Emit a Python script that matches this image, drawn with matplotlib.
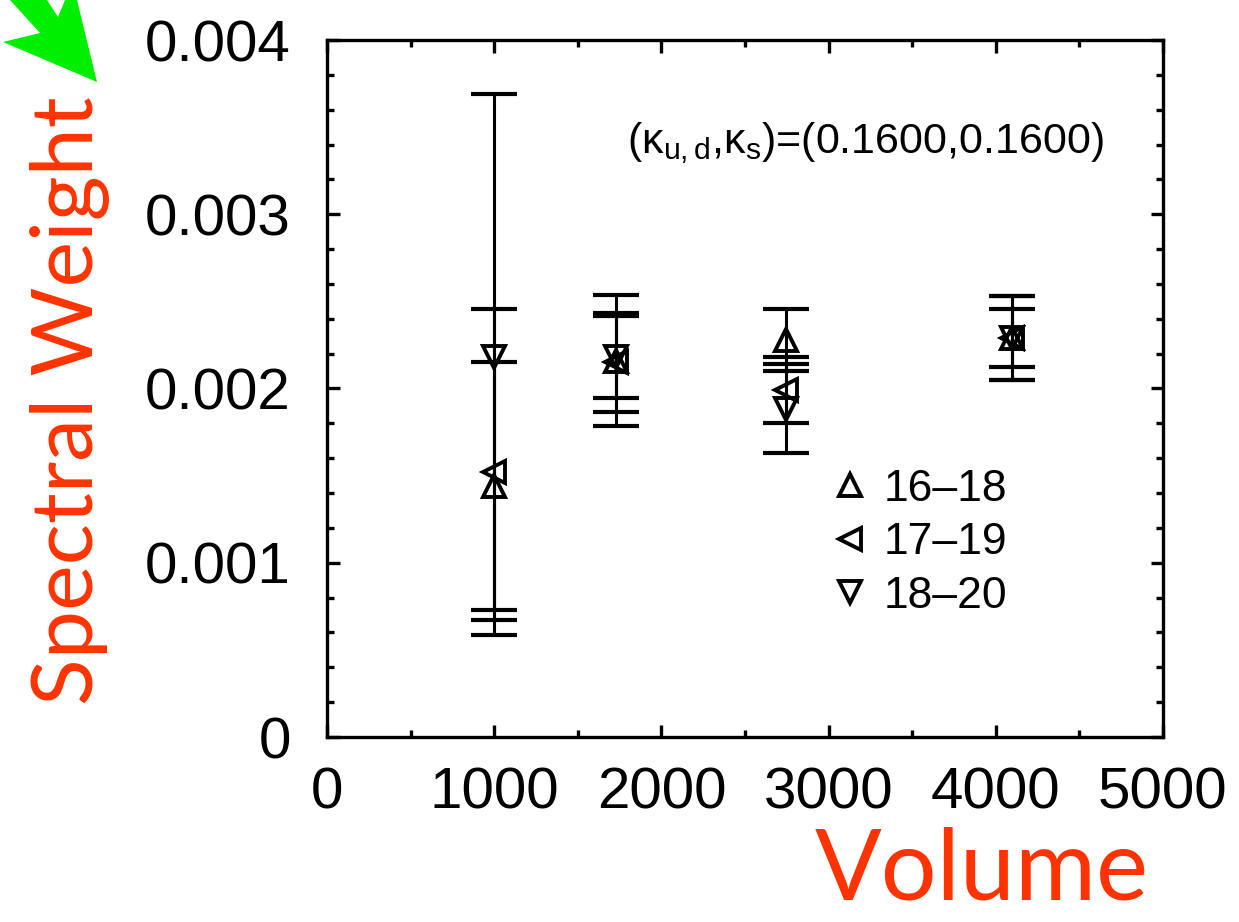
import numpy as np
import matplotlib
matplotlib.use('Agg')
import matplotlib.pyplot as plt
from matplotlib.patches import Polygon
from matplotlib.ticker import MultipleLocator, FuncFormatter

plt.rcParams.update({'font.family': ['Liberation Sans', 'DejaVu Sans']})
plt.rcParams.update({'mathtext.fontset': 'custom'})
plt.rcParams.update({'mathtext.rm': 'Liberation Sans'})
plt.rcParams.update({'mathtext.it': 'Liberation Sans'})

#%% spectral weight vs lattice volume, three fit ranges
volume = [1000, 1728, 2744, 4096]

w_16_18 = [0.00144, 0.00216, 0.00228, 0.00229]
e_16_18 = [0.00071, 0.000374, 0.000177, 0.000243]

w_17_19 = [0.00152, 0.00215, 0.00199, 0.00229]
e_17_19 = [0.000935, 0.000283, 0.00019, 0.000167]

w_18_20 = [0.00218, 0.00218, 0.001885, 0.00229]
e_18_20 = [0.00151, 0.000237, 0.000255, 0.00024]

series = [(w_16_18, e_16_18, '^', '16\u201318'),
          (w_17_19, e_17_19, '<', '17\u201319'),
          (w_18_20, e_18_20, 'v', '18\u201320')]

red = '#ff3300'

fig = plt.figure(figsize=(12.39, 9.22), dpi=100)
ax = fig.add_axes([327/1239, 185/922, 836/1239, 697/922])

handles = []
for w, e, m, lab in series:
    ax.errorbar(volume, w, yerr=e, fmt='none', ecolor='k', elinewidth=2.2,
                capsize=16.5, capthick=3.0, zorder=2)
    ax.plot(volume, w, linestyle='none', marker=m, ms=16, mfc='none',
            mec='k', mew=2.8, zorder=3)
    h, = ax.plot([], [], linestyle='none', marker=m, ms=16, mfc='none',
                 mec='k', mew=2.8)
    handles.append(h)

ax.set_xlim(0, 5000)
ax.set_ylim(0, 0.004)
ax.xaxis.set_major_locator(MultipleLocator(1000))
ax.xaxis.set_minor_locator(MultipleLocator(500))
ax.yaxis.set_major_locator(MultipleLocator(0.001))
ax.yaxis.set_minor_locator(MultipleLocator(0.0002))
ax.xaxis.set_major_formatter(FuncFormatter(lambda v, p: '%g' % v))
ax.yaxis.set_major_formatter(FuncFormatter(lambda v, p: '%g' % v))
ax.tick_params(which='both', direction='in', top=True, right=True, width=2.4,
               labelsize=42)
ax.tick_params(which='major', length=9)
ax.tick_params(which='minor', length=5)
ax.tick_params(axis='y', pad=26)
ax.tick_params(axis='x', pad=21)
for s in ax.spines.values():
    s.set_linewidth(2.4)

ax.text(0.359, 0.852, r'(κ$_{u,d}$,κ$_s$)=(0.1600,0.1600)', transform=ax.transAxes,
        fontsize=31, va='center', ha='left')

ax.legend(handles, [s[3] for s in series], loc='upper left', frameon=False,
          fontsize=32, handlelength=1.0, handletextpad=0.25, labelspacing=0.28,
          borderpad=0, borderaxespad=0,
          bbox_to_anchor=(828/1239, 1 - 469/922), bbox_transform=fig.transFigure)

# slide labels
fig.text(92/1239, 1 - 705/922, 'Spectral Weight', family='Lato', fontsize=62,
         color=red, rotation=90, rotation_mode='anchor', ha='left', va='baseline')
fig.text(815/1239, 1 - 899/922, 'Volume', family='Lato', fontsize=71,
         color=red, ha='left', va='baseline')

# green pointer arrow in the corner
arrow_px = [(10, 0), (40, 33), (3, 42), (97, 82), (77, 0), (65, 0), (58, 17), (47, 0)]
arrow = Polygon([(x/1239, 1 - y/922) for x, y in arrow_px], closed=True,
                transform=fig.transFigure, facecolor='#00ee00', edgecolor='none')
fig.patches.append(arrow)

fig.savefig('out.png', dpi=100)
